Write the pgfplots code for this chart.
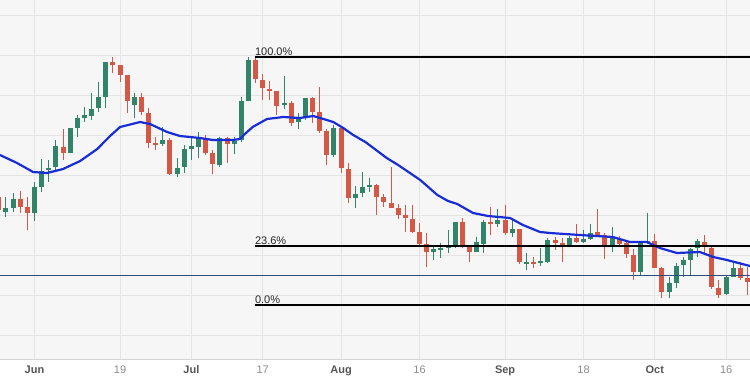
\documentclass[border=0pt]{standalone}
\usepackage{pgfplots}
\usepackage{pgfplotstable}
\pgfplotsset{compat=1.18}
\usepackage{fontspec}
\setmainfont{Liberation Sans}
\definecolor{cgreen}{RGB}{49,131,106}
\definecolor{cred}{RGB}{212,88,70}
\definecolor{cblue}{RGB}{25,45,215}
\definecolor{cbg}{RGB}{246,246,246}
\definecolor{cgrid}{RGB}{228,228,228}
\definecolor{cedge}{RGB}{212,212,212}
\definecolor{cprice}{RGB}{45,75,125}
\definecolor{cmon}{RGB}{85,85,85}
\definecolor{cday}{RGB}{140,140,140}

% pixel-based price values (smaller = higher price; y axis reversed)
\pgfplotstableread{
i hi lo bt bb
-4 197 217 208 212
-3 193 212 199 208
0 182 221 187 213
1 159 192 171 187
2 160 182 168 170
3 140 170 146 167
5 128 153 128 153
6 115 137 118 128
7 107 122 115 118
8 93 120 109 116
9 82 112 97 108
10 62 108 62 97
14 93 118 97 105
18 127 146 140 144
20 158 177 168 174
21 145 173 149 167
22 137 160 146 149
23 132 158 137 147
26 137 167 138 165
28 137 154 141 144
29 97 142 101 140
30 57 101 60 101
35 76 109 103 105
37 113 129 118 122
38 98 120 98 118
42 125 157 128 155
45 186 208 194 198
46 172 197 187 193
47 178 192 185 186
56 245 260 249 252
57 243 258 248 249
58 230 253 245 248
59 222 248 222 246
62 237 252 242 252
63 220 253 222 244
65 209 227 220 224
67 220 237 229 233
69 253 270 262 263
71 248 266 261 263
72 238 263 240 262
75 236 247 238 246
77 230 243 239 242
78 224 240 233 239
81 227 252 237 246
85 242 275 243 272
86 213 244 241 243
89 277 298 283 292
90 263 288 266 283
91 257 277 260 265
92 248 276 249 260
93 239 257 241 248
97 276 295 277 294
98 262 277 268 277
}\up

\pgfplotstableread{
i hi lo bt bb
-5 192 214 197 210
-2 191 213 199 207
-1 197 230 207 213
4 129 160 147 153
11 57 73 62 65
12 65 82 65 75
13 75 113 75 101
15 93 115 97 112
16 108 148 113 143
17 137 150 143 145
19 138 175 140 174
24 135 155 138 153
25 150 174 153 164
27 137 163 138 144
31 57 83 60 79
32 74 100 80 88
33 81 100 89 91
34 91 115 91 106
36 101 126 103 123
39 97 123 98 112
40 87 133 112 131
41 129 165 131 155
43 128 173 128 168
44 163 203 169 198
48 184 215 185 197
49 194 207 197 202
50 167 208 203 208
51 204 219 208 215
52 205 232 215 218
53 205 233 219 232
54 223 247 232 244
55 233 267 244 252
60 218 248 222 245
61 245 262 245 252
64 207 235 222 224
66 205 235 220 233
68 229 264 229 262
70 257 268 262 263
73 237 250 240 243
74 238 262 243 244
76 224 243 238 242
79 209 237 232 235
80 233 259 235 246
82 236 247 239 244
83 242 258 243 254
84 249 280 255 272
87 234 268 241 268
88 267 298 268 292
94 235 253 242 247
95 247 289 248 287
96 280 298 288 295
99 262 280 268 278
100 267 295 278 282
}\dn

\begin{document}
\begin{tikzpicture}
\begin{axis}[
  scale only axis,
  width=750bp, height=360bp,
  xmin=-4.84, xmax=100.35,
  ymin=0, ymax=360,
  y dir=reverse,
  axis background/.style={fill=cbg},
  axis line style={draw=none},
  major tick length=0pt,
  xtick={0,12,22,32,43,54,66,77,87,97},
  xticklabels={\textcolor{cmon}{\bfseries Jun},\textcolor{cday}{19},\textcolor{cmon}{\bfseries Jul},\textcolor{cday}{17},\textcolor{cmon}{\bfseries Aug},\textcolor{cday}{16},\textcolor{cmon}{\bfseries Sep},\textcolor{cday}{18},\textcolor{cmon}{\bfseries Oct},\textcolor{cday}{16}},
  ytick={15,55,95,135,175,215,255,295,335},
  yticklabels={},
  grid=major,
  grid style={draw=cgrid, line width=0.8bp},
  xticklabel style={font=\fontsize{11bp}{13bp}\selectfont, yshift=-2bp},
  /pgf/number format/assume math mode=true,
  clip=true,
  candle/.style={draw=none, mark=none, forget plot,
    error bars/y dir=both, error bars/y explicit, error bars/error mark=none},
]
% bottom edge of the plot area
\addplot[cedge, line width=1.2bp, forget plot] coordinates {(-4.84,359.6) (100.35,359.6)};
% wicks
\addplot[candle, error bars/error bar style={draw=cgreen, line width=1bp}]
  table[x=i, y expr=(\thisrow{hi}+\thisrow{lo})/2, y error expr=(\thisrow{lo}-\thisrow{hi})/2]{\up};
\addplot[candle, error bars/error bar style={draw=cred, line width=1bp}]
  table[x=i, y expr=(\thisrow{hi}+\thisrow{lo})/2, y error expr=(\thisrow{lo}-\thisrow{hi})/2]{\dn};
% bodies
\addplot[candle, error bars/error bar style={draw=cgreen, line width=5bp}]
  table[x=i, y expr=(\thisrow{bt}+\thisrow{bb})/2, y error expr={max((\thisrow{bb}-\thisrow{bt})/2,0.8)}]{\up};
\addplot[candle, error bars/error bar style={draw=cred, line width=5bp}]
  table[x=i, y expr=(\thisrow{bt}+\thisrow{bb})/2, y error expr={max((\thisrow{bb}-\thisrow{bt})/2,0.8)}]{\dn};
% current price line
\addplot[cprice, line width=1bp] coordinates {(-4.84,275) (100.35,275)};
% moving average
\addplot[cblue, line width=2.2bp, line join=round] coordinates {
(-4.84,155) (-2.45,163) (-0.2,172) (1.75,173) (4,169) (6.4,161) (8.8,149) (10.6,136)
(12,127) (14.8,122) (16.2,124) (18.6,132) (20.4,136) (23.2,138) (25.0,140) (27.8,140)
(28.8,139) (29.5,134) (30.6,127) (32.6,119) (34.9,117) (37.2,118) (39.1,116) (41.0,120)
(41.9,122) (43.3,128) (44.7,135) (46.4,142) (49.4,158) (51.0,165) (54.1,180) (56.5,195)
(58.0,201) (59.3,204) (61.5,213) (63.6,216) (66.7,218) (68.5,225) (70.9,232) (72.3,233)
(76.5,235) (81.1,237) (83.5,242) (85.9,242) (87.7,248) (90.1,253) (93.3,252) (95.2,257)
(97.1,260) (100.35,266)};
% Fibonacci levels
\addplot[black, line width=2.3bp] coordinates {(30.9,57) (100.35,57)};
\addplot[black, line width=2.3bp] coordinates {(30.9,246) (100.35,246)};
\addplot[black, line width=2.3bp] coordinates {(30.9,305) (100.35,305)};
\node[anchor=south west, inner sep=0pt, yshift=1bp, text=black!85, font=\fontsize{11bp}{13bp}\selectfont] at (axis cs:30.9,57) {100.0\%};
\node[anchor=south west, inner sep=0pt, yshift=1bp, text=black!85, font=\fontsize{11bp}{13bp}\selectfont] at (axis cs:30.9,246) {23.6\%};
\node[anchor=south west, inner sep=0pt, yshift=1bp, text=black!85, font=\fontsize{11bp}{13bp}\selectfont] at (axis cs:30.9,305) {0.0\%};
\end{axis}
\pgfresetboundingbox
\path (current axis.south west) ++(0pt,-26bp) rectangle (current axis.north east);
\end{tikzpicture}
\end{document}
